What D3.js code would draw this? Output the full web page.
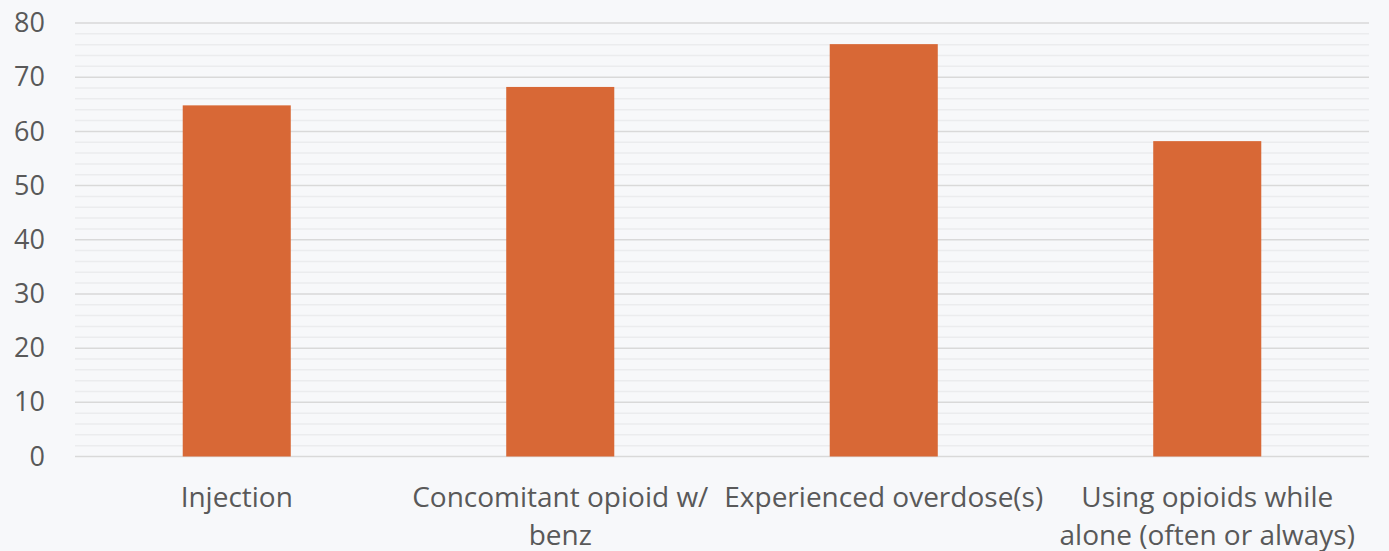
<!DOCTYPE html>
<html>
<head>
<meta charset="utf-8">
<script src="https://cdn.jsdelivr.net/npm/d3@7"></script>
<style>
  html, body { margin: 0; padding: 0; background: #f7f8fa; }
  #chart { width: 1389px; height: 551px; }
</style>
</head>
<body>
<div id="chart"></div>
<script>
const categories = [
    "Injection",
    "Concomitant opioid w/ benz",
    "Experienced overdose(s)",
    "Using opioids while alone (often or always)"
];
const values = [64.8, 68.2, 76.1, 58.2];
const yTicks = [0, 10, 20, 30, 40, 50, 60, 70, 80];

const width = 1389;
const height = 551;
const margin = { top: 23, right: 20, bottom: 94.5, left: 75 };
const innerWidth = width - margin.left - margin.right;
const innerHeight = height - margin.top - margin.bottom;

const textColor = "#595959";
const fontFamily = "'Open Sans', sans-serif";

const svg = d3.select("#chart")
    .append("svg")
    .attr("width", width)
    .attr("height", height);

svg.append("rect")
    .attr("width", width)
    .attr("height", height)
    .attr("fill", "#f7f8fa");

const innerChart = svg.append("g")
    .attr("transform", `translate(${margin.left},${margin.top})`);

const xScale = d3.scaleBand()
    .domain(categories)
    .range([0, innerWidth])
    .paddingInner(0.666)
    .paddingOuter(0.333);

const yScale = d3.scaleLinear()
    .domain([0, 80])
    .range([innerHeight, 0]);

// Minor gridlines every 2
const minorTicks = d3.range(0, 81, 2).filter(v => v % 10 !== 0);
innerChart.selectAll(".minor-grid")
    .data(minorTicks)
    .join("line")
    .attr("class", "minor-grid")
    .attr("x1", 0)
    .attr("x2", innerWidth)
    .attr("y1", d => yScale(d))
    .attr("y2", d => yScale(d))
    .attr("stroke", "#ebecee")
    .attr("stroke-width", 1.5);

// Major gridlines
innerChart.selectAll(".major-grid")
    .data(yTicks)
    .join("line")
    .attr("class", "major-grid")
    .attr("x1", 0)
    .attr("x2", innerWidth)
    .attr("y1", d => yScale(d))
    .attr("y2", d => yScale(d))
    .attr("stroke", "#d9d9d9")
    .attr("stroke-width", 1.5);

// Bars
innerChart.selectAll(".bar")
    .data(categories)
    .join("rect")
    .attr("class", "bar")
    .attr("x", d => xScale(d))
    .attr("y", (d, i) => yScale(values[i]))
    .attr("width", xScale.bandwidth())
    .attr("height", (d, i) => innerHeight - yScale(values[i]))
    .attr("fill", "#d86836");

// Y axis
const yAxis = innerChart.append("g")
    .call(d3.axisLeft(yScale).tickValues(yTicks).tickSize(0).tickPadding(30));
yAxis.select(".domain").remove();
yAxis.selectAll("text")
    .style("font-family", fontFamily)
    .style("font-size", "27px")
    .style("fill", textColor);

// X axis labels, wrapped to the band step
const step = xScale.step();
const xAxis = innerChart.append("g")
    .attr("transform", `translate(0,${innerHeight})`)
    .call(d3.axisBottom(xScale).tickSize(0).tickPadding(0));
xAxis.select(".domain").remove();
xAxis.selectAll("text")
    .style("font-family", fontFamily)
    .style("font-size", "28px")
    .style("fill", textColor)
    .attr("dy", null)
    .attr("y", 0)
    .each(function (d) {
        const text = d3.select(this);
        const words = d.split(/\s+/);
        text.text(null);
        let line = [];
        let tspan = text.append("tspan").attr("x", 0);
        words.forEach(w => {
            line.push(w);
            tspan.text(line.join(" "));
            if (tspan.node().getComputedTextLength() > step + 2 && line.length > 1) {
                line.pop();
                tspan.text(line.join(" "));
                line = [w];
                tspan = text.append("tspan").attr("x", 0).text(w);
            }
        });
        text.selectAll("tspan")
            .attr("y", (t, i) => 50 + i * 38);
    });
</script>
</body>
</html>
